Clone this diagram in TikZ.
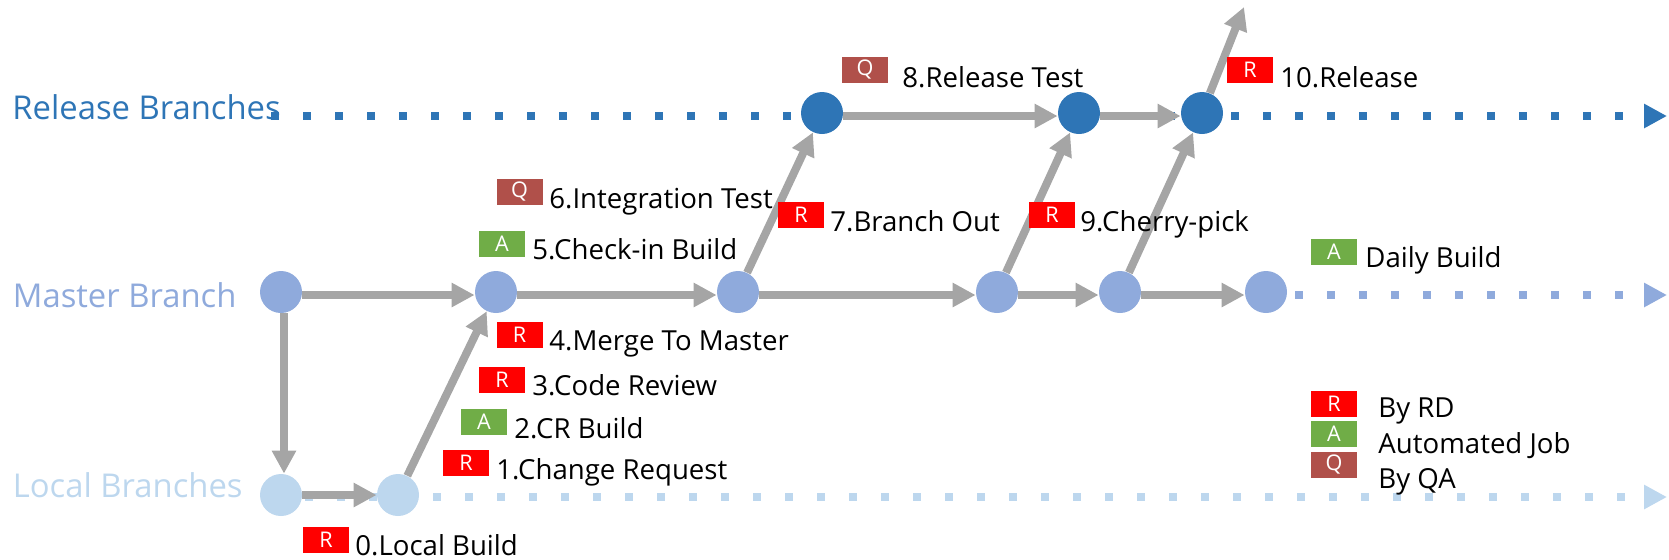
\documentclass[tikz,border=0pt]{standalone}
\usepackage{fontspec}
\setmainfont{Open Sans}
\usetikzlibrary{arrows.meta}
\definecolor{relc}{HTML}{2E75B6}
\definecolor{masc}{HTML}{8FAADC}
\definecolor{locc}{HTML}{BDD7EE}
\definecolor{grayc}{HTML}{A5A5A5}
\definecolor{rdc}{HTML}{FF0000}
\definecolor{autoc}{HTML}{70AD47}
\definecolor{qac}{HTML}{B0504A}
\begin{document}
\begin{tikzpicture}[x=0.5pt,y=-0.5pt,
  commit/.style={circle,inner sep=0pt,minimum size=21pt},
  badge/.style={rectangle,inner sep=0pt,minimum width=23pt,minimum height=13pt,text=white,font=\fontsize{10.8}{12}\selectfont},
  rbadge/.style={badge,fill=rdc},
  abadge/.style={badge,fill=autoc},
  qbadge/.style={badge,fill=qac},
  lbl/.style={anchor=base west,inner sep=0pt,font=\fontsize{13.8}{16}\selectfont},
  brlbl/.style={anchor=base west,inner sep=0pt,font=\fontsize{16.4}{19}\selectfont},
  garrow/.style={draw=grayc,line width=4pt,-{Triangle[length=11.5pt,width=11.5pt]}},
  dotline/.style={line width=3.75pt,dash pattern=on 3.75pt off 12.25pt,-{Triangle[length=11.5pt,width=11.5pt]}}
]
\useasboundingbox (0,0) rectangle (1669,559);

% branch labels
\node[brlbl,text=relc] (lrel) at (12,119) {Release Branches};
\node[brlbl,text=masc] (lmas) at (12.5,307) {Master Branch};
\node[brlbl,text=locc] (lloc) at (12.5,497) {Local Branches};

% dotted branch lines
\coordinate (relS) at (271,116);
\coordinate (relE) at (1667,116);
\coordinate (masS) at (1295,295);
\coordinate (masE) at (1667,295);
\coordinate (locS) at (305,497);
\coordinate (locE) at (1667,497);
\draw[dotline,relc] (relS) -- (relE);
\draw[dotline,masc] (masS) -- (masE);
\draw[dotline,locc] (locS) -- (locE);

% commits
\node[commit,fill=relc] (R1) at (822,113) {};
\node[commit,fill=relc] (R2) at (1079,113) {};
\node[commit,fill=relc] (R3) at (1202,113) {};
\node[commit,fill=masc] (A) at (281,292) {};
\node[commit,fill=masc] (B) at (496,292) {};
\node[commit,fill=masc] (C) at (738,292) {};
\node[commit,fill=masc] (D) at (997,292) {};
\node[commit,fill=masc] (E) at (1120,292) {};
\node[commit,fill=masc] (F) at (1266,292) {};
\node[commit,fill=locc] (L1) at (281,495) {};
\node[commit,fill=locc] (L2) at (398,495) {};

% gray arrows
\draw[garrow] ([yshift=-1.5pt]A.east) -- ([yshift=-1.5pt]B.west);
\draw[garrow] ([yshift=-1.5pt]B.east) -- ([yshift=-1.5pt]C.west);
\draw[garrow] ([yshift=-1.5pt]C.east) -- ([yshift=-1.5pt]D.west);
\draw[garrow] ([yshift=-1.5pt]D.east) -- ([yshift=-1.5pt]E.west);
\draw[garrow] ([yshift=-1.5pt]E.east) -- ([yshift=-1.5pt]F.west);
\draw[garrow] ([yshift=-1.5pt]R1.east) -- ([yshift=-1.5pt]R2.west);
\draw[garrow] ([yshift=-1.5pt]R2.east) -- ([yshift=-1.5pt]R3.west);
\draw[garrow] ([xshift=1.5pt]A.south) -- ([xshift=1.5pt]L1.north);
\draw[garrow] (L1.east) -- (L2.west);
\draw[garrow] (L2) -- (B);
\draw[garrow] (C) -- (R1);
\draw[garrow] (D) -- (R2);
\draw[garrow] (E) -- (R3);
\coordinate (rel) at (1244,7);
\draw[garrow] (R3) -- (rel);

% step labels
\node[qbadge] (b6) at (519.5,191.5) {Q};
\node[lbl] (t6) at (549,208) {6.Integration Test};
\node[abadge] (b5) at (502,243.5) {A};
\node[lbl] (t5) at (532,259) {5.Check-in Build};
\node[rbadge] (b4) at (519.5,335) {R};
\node[lbl] (t4) at (549,350) {4.Merge To Master};
\node[rbadge] (b3) at (502,379.5) {R};
\node[lbl] (t3) at (532,395) {3.Code Review};
\node[abadge] (b2) at (484,421.5) {A};
\node[lbl] (t2) at (514,438) {2.CR Build};
\node[rbadge] (b1) at (466,463) {R};
\node[lbl] (t1) at (496,479) {1.Change Request};
\node[rbadge] (b0) at (326,539.5) {R};
\node[lbl] (t0) at (355,555) {0.Local Build};
\node[qbadge] (b8) at (865,69.5) {Q};
\node[lbl] (t8) at (902,87) {8.Release Test};
\node[rbadge] (b7) at (801,215) {R};
\node[lbl] (t7) at (830,231) {7.Branch Out};
\node[rbadge] (b9) at (1052,215) {R};
\node[lbl] (t9) at (1080,231) {9.Cherry-pick};
\node[rbadge] (b10) at (1250,69.5) {R};
\node[lbl] (t10) at (1280,87) {10.Release};
\node[abadge] (bd) at (1334,251.5) {A};
\node[lbl] (td) at (1365,267) {Daily Build};

% legend
\node[rbadge] (kr) at (1334,403.5) {R};
\node[abadge] (ka) at (1334,434) {A};
\node[qbadge] (kq) at (1334,464.5) {Q};
\node[lbl] (tkr) at (1378,417) {By RD};
\node[lbl] (tka) at (1378,453) {Automated Job};
\node[lbl] (tkq) at (1378,488) {By QA};
\end{tikzpicture}
\end{document}
